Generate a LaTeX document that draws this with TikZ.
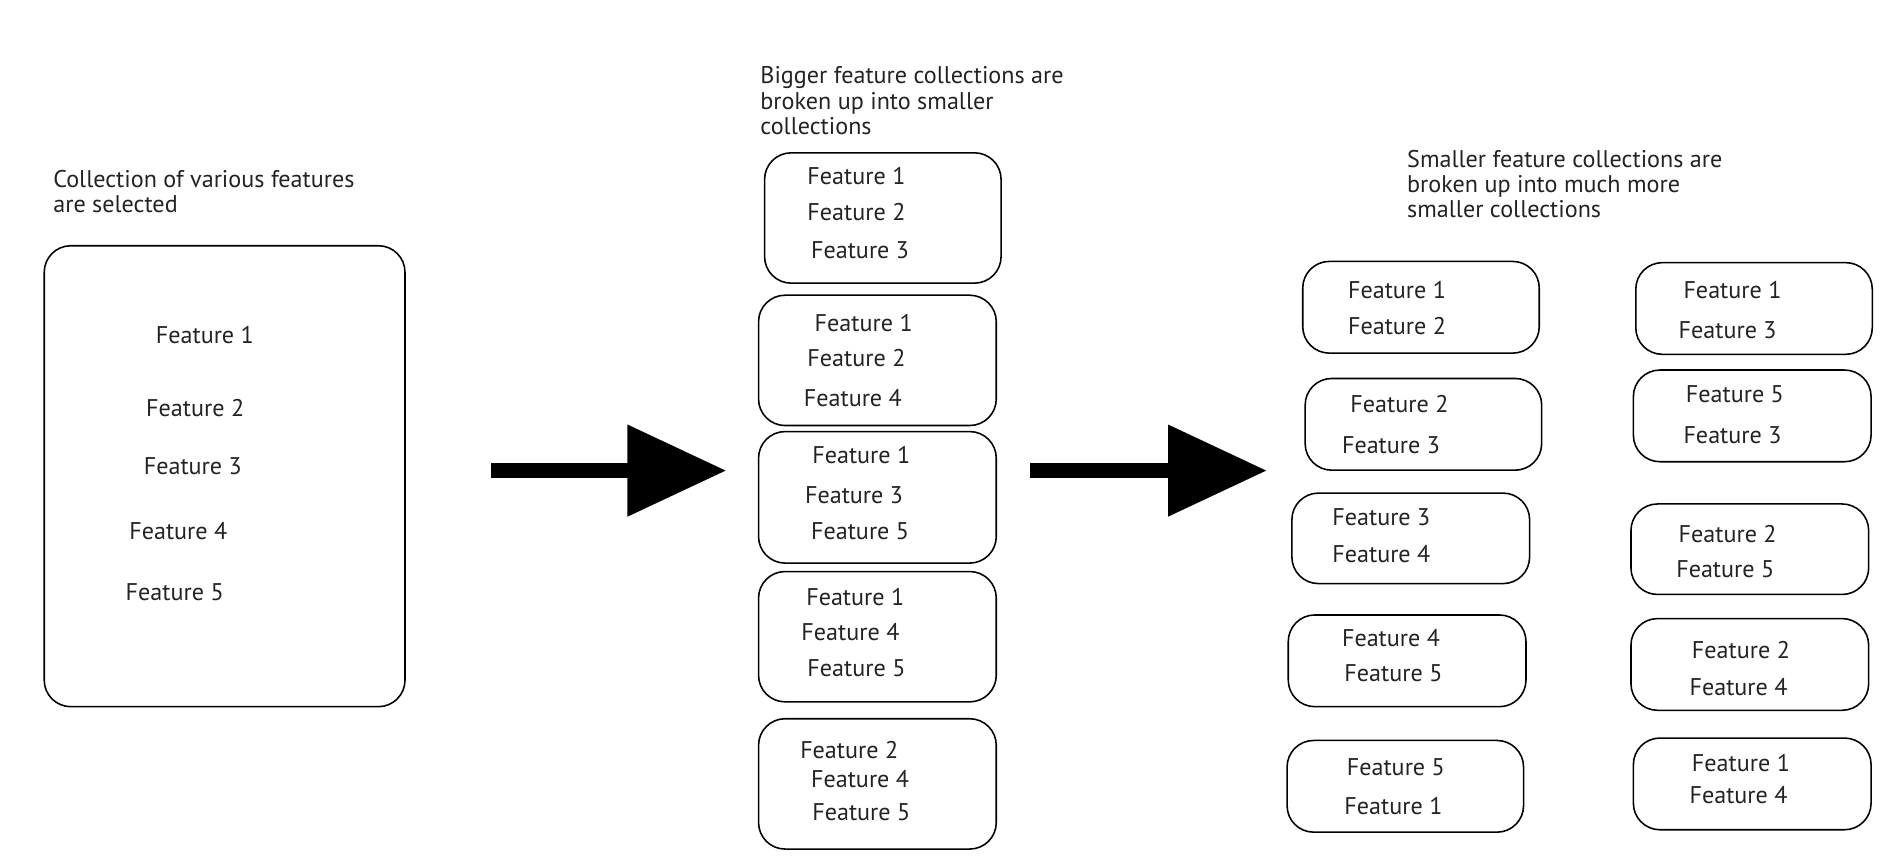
\documentclass[tikz,border=0pt]{standalone}
\usepackage{fontspec}
\setmainfont{PT Sans}
\usetikzlibrary{arrows.meta}
\definecolor{txt}{RGB}{35,35,35}
\begin{document}
\begin{tikzpicture}[x=1pt,y=-1pt,
  fbox/.style={draw=black, line width=1.3pt, rounded corners=22pt, anchor=north west, inner sep=0pt},
  ft/.style={anchor=west, inner sep=0pt, text=txt, font=\fontsize{20}{21}\selectfont},
  ttl/.style={anchor=north west, inner sep=0pt, text=txt, align=left, font=\fontsize{20}{21}\selectfont},
  bigarrow/.style={line width=12pt, -{Triangle[length=82pt,width=73pt]}, black}]
\useasboundingbox (0,0) rectangle (1568,713);
% left
\node[ttl] (t1) at (44,141) {Collection of various features\\are selected};
\node[fbox, minimum width=299pt, minimum height=382pt] (L) at (36,203) {};
\node[ft] (L1) at (129,278) {Feature 1};
\node[ft] (L2) at (121,338) {Feature 2};
\node[ft] (L3) at (119,386) {Feature 3};
\node[ft] (L4) at (107,440) {Feature 4};
\node[ft] (L5) at (104,491) {Feature 5};
% arrows
\coordinate (a1s) at (407,390);
\coordinate (a1e) at (602,390);
\draw[bigarrow] (a1s) -- (a1e);
\coordinate (a2s) at (854,390);
\coordinate (a2e) at (1050,390);
\draw[bigarrow] (a2s) -- (a2e);
% middle
\node[ttl] (t2) at (630,55) {Bigger feature collections are\\broken up into smaller\\collections};
\node[fbox, minimum width=196pt, minimum height=108pt] (M1) at (633,126) {};
\node[ft] (M1a) at (669,146) {Feature 1};
\node[ft] (M1b) at (669,176) {Feature 2};
\node[ft] (M1c) at (672,207) {Feature 3};
\node[fbox, minimum width=197pt, minimum height=108pt] (M2) at (628,244) {};
\node[ft] (M2a) at (675,268) {Feature 1};
\node[ft] (M2b) at (669,297) {Feature 2};
\node[ft] (M2c) at (666,330) {Feature 4};
\node[fbox, minimum width=197pt, minimum height=109pt] (M3) at (628,357) {};
\node[ft] (M3a) at (673,377) {Feature 1};
\node[ft] (M3b) at (667,410) {Feature 3};
\node[ft] (M3c) at (672,440) {Feature 5};
\node[fbox, minimum width=197pt, minimum height=108pt] (M4) at (628,473) {};
\node[ft] (M4a) at (668,495) {Feature 1};
\node[ft] (M4b) at (664,524) {Feature 4};
\node[ft] (M4c) at (669,554) {Feature 5};
\node[fbox, minimum width=197pt, minimum height=108pt] (M5) at (628,595) {};
\node[ft] (M5a) at (663,622) {Feature 2};
\node[ft] (M5b) at (672,646) {Feature 4};
\node[ft] (M5c) at (673,673) {Feature 5};
% right
\node[ttl] (t3) at (1166,124) {Smaller feature collections are\\broken up into much more\\smaller collections};
\node[fbox, minimum width=196pt, minimum height=76pt] (RA) at (1079,216) {};
\node[ft] (RA1) at (1117,240) {Feature 1};
\node[ft] (RA2) at (1117,270) {Feature 2};
\node[fbox, minimum width=196pt, minimum height=76pt] (RB) at (1081,313) {};
\node[ft] (RB1) at (1119,335) {Feature 2};
\node[ft] (RB2) at (1112,369) {Feature 3};
\node[fbox, minimum width=197pt, minimum height=75pt] (RC) at (1070,408) {};
\node[ft] (RC1) at (1104,429) {Feature 3};
\node[ft] (RC2) at (1104,459) {Feature 4};
\node[fbox, minimum width=197pt, minimum height=76pt] (RD) at (1067,509) {};
\node[ft] (RD1) at (1112,529) {Feature 4};
\node[ft] (RD2) at (1114,558) {Feature 5};
\node[fbox, minimum width=196pt, minimum height=76pt] (RE) at (1066,613) {};
\node[ft] (RE1) at (1116,636) {Feature 5};
\node[ft] (RE2) at (1114,668) {Feature 1};
\node[fbox, minimum width=196pt, minimum height=76pt] (RF) at (1355,217) {};
\node[ft] (RF1) at (1395,240) {Feature 1};
\node[ft] (RF2) at (1391,274) {Feature 3};
\node[fbox, minimum width=197pt, minimum height=76pt] (RG) at (1353,306) {};
\node[ft] (RG1) at (1397,327) {Feature 5};
\node[ft] (RG2) at (1395,361) {Feature 3};
\node[fbox, minimum width=197pt, minimum height=75pt] (RH) at (1351,417) {};
\node[ft] (RH1) at (1391,443) {Feature 2};
\node[ft] (RH2) at (1389,472) {Feature 5};
\node[fbox, minimum width=197pt, minimum height=76pt] (RI) at (1351,512) {};
\node[ft] (RI1) at (1402,539) {Feature 2};
\node[ft] (RI2) at (1400,569) {Feature 4};
\node[fbox, minimum width=197pt, minimum height=76pt] (RJ) at (1353,611) {};
\node[ft] (RJ1) at (1402,632) {Feature 1};
\node[ft] (RJ2) at (1400,659) {Feature 4};
\end{tikzpicture}
\end{document}
